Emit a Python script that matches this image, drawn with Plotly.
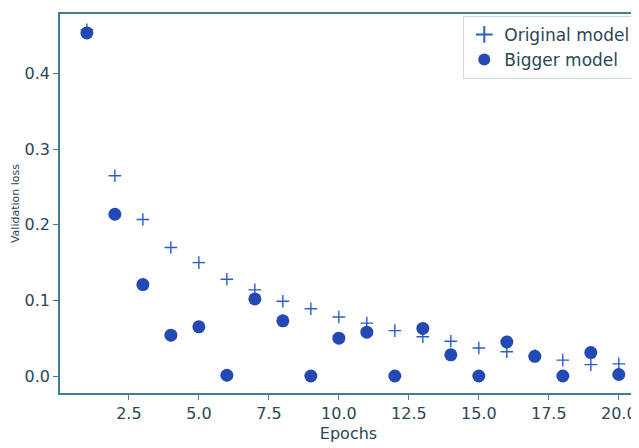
import plotly.graph_objects as go

epochs = list(range(1, 21))
original_model = [0.458, 0.265, 0.207, 0.170, 0.150, 0.128, 0.114, 0.099, 0.089, 0.078,
                  0.070, 0.060, 0.052, 0.046, 0.037, 0.032, 0.027, 0.021, 0.015, 0.016]
bigger_model = [0.454, 0.214, 0.121, 0.054, 0.065, 0.001, 0.102, 0.073, 0.000, 0.050,
                0.058, 0.000, 0.063, 0.028, 0.000, 0.045, 0.026, 0.000, 0.031, 0.002]
x_ticks = [2.5, 5.0, 7.5, 10.0, 12.5, 15.0, 17.5, 20.0]
y_ticks = [0.0, 0.1, 0.2, 0.3, 0.4]

font = "DejaVu Sans"
axis_col = "#3d7f94"
text_col = "#2a4658"

fig = go.Figure()
fig.add_trace(go.Scatter(x=epochs, y=original_model, mode="markers", name="Original model",
                         marker=dict(symbol="cross-thin", size=9, color="#2a5cc8",
                                     line=dict(width=1.4, color="#2a5cc8"))))
fig.add_trace(go.Scatter(x=epochs, y=bigger_model, mode="markers", name="Bigger model",
                         marker=dict(symbol="circle", size=13, color="#2349b4")))

fig.update_layout(
    width=631, height=440,
    margin=dict(l=52, r=2, t=6, b=55),
    plot_bgcolor="white", paper_bgcolor="white",
    font=dict(family=font, size=16, color=text_col),
    legend=dict(x=0.997, y=0.995, xanchor="right", yanchor="top",
                bordercolor="#c8d8e8", borderwidth=1, bgcolor="rgba(255,255,255,0.9)",
                font=dict(size=17, color=text_col), itemsizing="constant",
                tracegroupgap=0),
    xaxis=dict(range=[0.04, 20.65], tickvals=x_ticks, ticktext=[f"{v:.1f}" for v in x_ticks],
               showgrid=False, zeroline=False, showline=True, linecolor=axis_col, linewidth=1.5,
               mirror=True, ticks="outside", ticklen=5, tickcolor=axis_col, automargin=False,
               tickfont=dict(size=16),
               title=dict(text="Epochs", standoff=6, font=dict(size=16, color=text_col))),
    yaxis=dict(range=[-0.0225, 0.479], tickvals=y_ticks, ticktext=[f"{v:.1f}" for v in y_ticks],
               showgrid=False, zeroline=False, showline=True, linecolor=axis_col, linewidth=1.5,
               mirror=True, ticks="outside", ticklen=5, tickcolor=axis_col, automargin=False,
               tickfont=dict(size=16)),
)
fig.add_annotation(text="Validation loss", textangle=-90, xref="paper", yref="paper",
                   x=-0.077, y=0.5, showarrow=False, xanchor="center", yanchor="middle",
                   font=dict(size=11, color=text_col))

fig.write_html("out.html")
